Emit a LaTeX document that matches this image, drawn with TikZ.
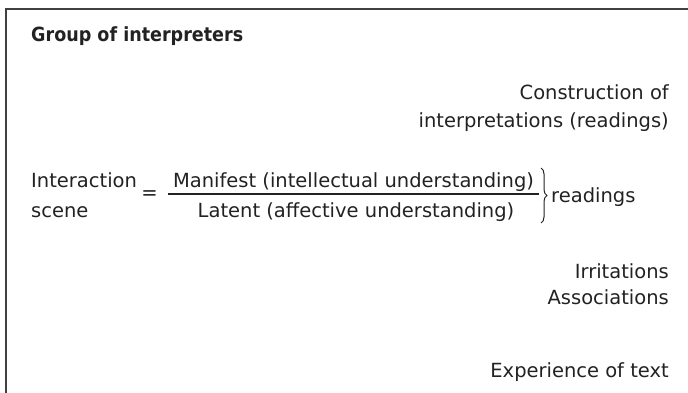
\documentclass[tikz,border=0pt]{standalone}
\usepackage{fontspec}
\setmainfont{DejaVu Sans}
\newfontfamily\headfont[FakeStretch=0.9]{DejaVu Sans}
\usepackage{xcolor}
\usetikzlibrary{decorations.pathreplacing}
\definecolor{inkgray}{HTML}{222222}
\tikzset{
  txt/.style={inner sep=0pt, text=inkgray, font=\fontsize{19.5}{28}\selectfont},
  headtxt/.style={txt, font=\fontsize{19.5}{28}\headfont\bfseries},
  frame/.style={draw=black!75, line width=1.5pt},
  fracbar/.style={draw=inkgray, line width=1.1pt},
  rbrace/.style={draw=inkgray, line width=1pt, decorate,
    decoration={brace, amplitude=6pt}}
}

\begin{document}
\begin{tikzpicture}[x=1pt, y=-1pt]
\useasboundingbox (0,0) rectangle (688,393);
\draw[frame] (688,9) -- (6,9) -- (6,393);
\node[headtxt, anchor=base west] at (31,42) (group) {Group of interpreters};
% multi-line nodes: base anchor sits on the last line
\node[txt, anchor=base east, align=right] at (669,128) (constr) {Construction of\\interpretations (readings)};
\node[txt, anchor=base west, align=left, font=\fontsize{19.5}{30}\selectfont] at (31,217) (scene) {Interaction\\scene};
\node[txt] at (149.5,195) (eq) {=};
\node[txt, anchor=base] at (353.5,187) (manifest) {Manifest (intellectual understanding)};
\node[txt, anchor=base] at (356,217) (latent) {Latent (affective understanding)};
\coordinate (barl) at (168,194);
\coordinate (barr) at (539,194);
\draw[fracbar] (barl) -- (barr);
\coordinate (bracetop) at (541,168);
\coordinate (bracebot) at (541,223);
\draw[rbrace] (bracetop) -- (bracebot);
\node[txt, anchor=base west] at (551,202) (readings) {readings};
\node[txt, anchor=base east, align=right, font=\fontsize{19.5}{26}\selectfont] at (669,304) (irrit) {Irritations\\Associations};
\node[txt, anchor=base east] at (669,377) (exper) {Experience of text};
\end{tikzpicture}
\end{document}
